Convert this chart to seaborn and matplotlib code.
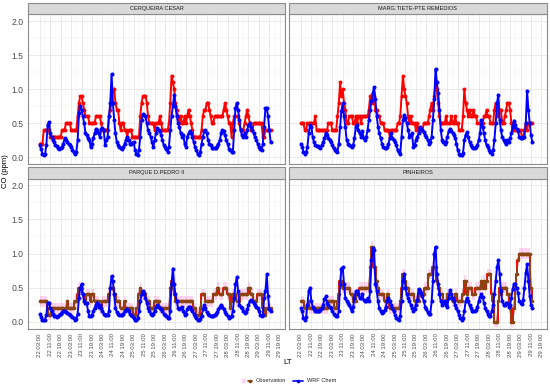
import numpy as np
import pandas as pd
import matplotlib
matplotlib.use("Agg")
import matplotlib.pyplot as plt
import seaborn as sns
from matplotlib.patches import Rectangle, Patch
from matplotlib.lines import Line2D
from matplotlib.legend_handler import HandlerTuple

# ---------------- data ----------------
stations = ["CERQUEIRA CESAR", "MARG.TIETE-PTE REMEDIOS", "PARQUE D.PEDRO II", "PINHEIROS"]
start_time = "2018-05-22 03:00"
n_hours = 178
tick_step_hours = 8
n_ticks = 24

cc_obs = [0.2,0.2,0.2,0.4,0.4,0.4,0.4,0.4,0.3,0.3,0.3,0.3,0.3,0.3,0.3,0.3,0.3,0.4,0.4,0.4,0.5,0.5,0.5,0.5,
          0.4,0.4,0.4,0.4,0.4,0.6,0.8,0.9,0.9,0.8,0.7,0.6,0.6,0.6,0.5,0.5,0.5,0.5,0.5,0.6,0.6,0.6,0.6,0.5,
          0.4,0.4,0.4,0.4,0.4,0.6,0.7,0.8,1.0,1.0,0.8,0.7,0.7,0.5,0.4,0.5,0.5,0.4,0.4,0.3,0.4,0.4,0.4,0.3,
          0.3,0.3,0.3,0.3,0.3,0.6,0.8,0.9,0.9,0.9,0.8,0.6,0.5,0.5,0.5,0.5,0.4,0.5,0.5,0.5,0.6,0.5,0.4,0.4,
          0.4,0.4,0.4,0.5,0.8,1.2,1.1,1.0,0.8,0.7,0.6,0.5,0.6,0.5,0.5,0.6,0.5,0.6,0.7,0.6,0.5,0.4,0.3,0.3,
          0.3,0.3,0.3,0.3,0.4,0.6,0.7,0.7,0.8,0.8,0.7,0.6,0.5,0.5,0.6,0.6,0.6,0.6,0.6,0.6,0.6,0.7,0.8,0.7,
          0.6,0.5,0.5,0.3,0.5,0.6,0.6,0.6,0.6,0.5,0.4,0.4,0.4,0.5,0.6,0.7,0.6,0.5,0.4,0.4,0.5,0.5,0.5,0.5,
          0.5,0.5,0.5,0.3,0.3,0.4,0.4,0.4,0.4,0.4]
cc_wrf = [0.18,0.12,0.05,0.03,0.05,0.18,0.48,0.52,0.35,0.30,0.25,0.22,0.18,0.16,0.14,0.12,0.13,0.15,0.20,0.28,0.25,0.22,0.20,0.18,
          0.15,0.10,0.08,0.05,0.08,0.25,0.65,0.75,0.70,0.60,0.50,0.35,0.32,0.28,0.25,0.15,0.20,0.28,0.35,0.42,0.40,0.35,0.30,0.42,
          0.43,0.40,0.18,0.25,0.30,0.60,0.80,1.22,0.80,0.55,0.35,0.22,0.18,0.15,0.13,0.12,0.15,0.20,0.25,0.30,0.25,0.20,0.20,0.21,
          0.22,0.10,0.05,0.03,0.10,0.30,0.55,0.63,0.62,0.60,0.50,0.40,0.35,0.30,0.22,0.15,0.25,0.35,0.43,0.40,0.38,0.32,0.25,0.18,
          0.15,0.12,0.08,0.15,0.40,0.60,0.75,0.92,0.75,0.60,0.50,0.45,0.35,0.30,0.33,0.20,0.15,0.30,0.35,0.38,0.35,0.30,0.22,0.15,
          0.10,0.05,0.03,0.07,0.20,0.30,0.38,0.40,0.35,0.25,0.20,0.18,0.14,0.13,0.13,0.14,0.17,0.20,0.25,0.35,0.40,0.38,0.32,0.25,
          0.20,0.12,0.10,0.08,0.07,0.40,0.72,0.80,0.70,0.55,0.40,0.32,0.30,0.35,0.30,0.40,0.47,0.50,0.45,0.40,0.35,0.30,0.25,0.20,
          0.15,0.12,0.10,0.20,0.45,0.72,0.73,0.60,0.40,0.22]

mt_obs = [0.5,0.5,0.5,0.4,0.4,0.5,0.5,0.5,0.5,0.5,0.5,0.6,0.4,0.4,0.4,0.4,0.4,0.4,0.4,0.4,0.4,0.5,0.5,0.5,
          0.4,0.4,0.4,0.4,0.6,0.8,1.1,0.9,1.0,0.8,0.7,0.5,0.5,0.6,0.6,0.6,0.5,0.5,0.6,0.5,0.6,0.6,0.5,0.6,
          0.6,0.6,0.6,0.6,0.7,0.9,0.9,0.8,0.9,0.7,0.7,0.6,0.6,0.5,0.5,0.5,0.4,0.4,0.4,0.4,0.3,0.4,0.4,0.4,
          0.4,0.4,0.5,0.5,0.6,0.9,1.2,1.0,0.9,0.8,0.6,0.5,0.6,0.5,0.5,0.5,0.4,0.5,0.4,0.4,0.4,0.4,0.5,0.5,
          0.5,0.5,0.6,0.7,0.8,0.7,0.9,1.1,1.0,0.8,0.6,0.5,0.5,0.5,0.5,0.6,0.5,0.5,0.5,0.6,0.5,0.5,0.6,0.5,
          0.5,0.4,0.4,0.4,0.6,1.0,0.8,0.7,0.6,0.7,0.6,0.6,0.7,0.6,0.6,0.5,0.5,0.5,0.5,0.5,0.6,0.6,0.7,0.6,
          0.6,0.5,0.5,0.5,0.7,0.8,0.7,0.6,0.7,0.7,0.5,0.5,0.6,0.7,0.8,0.8,0.7,0.5,0.4,0.5,0.4,0.4,0.4,0.4,
          0.4,0.3,0.3,0.4,0.5,0.4,0.5,0.5,0.5,0.5]
mt_wrf = [0.20,0.15,0.08,0.05,0.07,0.15,0.35,0.48,0.45,0.30,0.22,0.18,0.17,0.16,0.15,0.13,0.18,0.22,0.28,0.35,0.32,0.28,0.25,0.22,
          0.18,0.13,0.10,0.09,0.08,0.20,0.45,0.68,0.80,0.60,0.45,0.25,0.20,0.18,0.16,0.15,0.18,0.28,0.45,0.48,0.40,0.35,0.30,0.38,
          0.28,0.25,0.30,0.40,0.55,0.70,0.82,0.95,1.03,0.85,0.60,0.45,0.35,0.28,0.20,0.15,0.13,0.13,0.15,0.20,0.28,0.35,0.28,0.25,
          0.22,0.18,0.10,0.07,0.05,0.30,0.55,0.62,0.58,0.50,0.40,0.30,0.33,0.35,0.15,0.18,0.25,0.30,0.35,0.45,0.42,0.40,0.37,0.33,
          0.30,0.25,0.20,0.22,0.30,0.55,0.85,1.30,1.10,0.95,0.70,0.40,0.25,0.22,0.20,0.23,0.30,0.38,0.42,0.38,0.36,0.33,0.28,0.20,
          0.10,0.05,0.03,0.03,0.06,0.25,0.33,0.37,0.30,0.22,0.18,0.15,0.14,0.13,0.15,0.18,0.25,0.35,0.55,0.45,0.35,0.25,0.18,0.15,
          0.10,0.08,0.05,0.10,0.25,0.50,0.80,0.92,0.55,0.40,0.30,0.25,0.22,0.20,0.25,0.22,0.28,0.35,0.45,0.54,0.48,0.42,0.38,0.30,
          0.28,0.28,0.29,0.30,0.50,0.98,0.70,0.50,0.32,0.22]

pd_obs = [0.3,0.3,0.3,0.3,0.3,0.3,0.2,0.1,0.1,0.2,0.2,0.2,0.2,0.2,0.2,0.2,0.2,0.2,0.2,0.2,0.2,0.3,0.2,0.2,
          0.2,0.2,0.2,0.3,0.3,0.4,0.5,0.5,0.5,0.4,0.3,0.3,0.4,0.4,0.4,0.3,0.4,0.4,0.3,0.3,0.3,0.3,0.2,0.2,
          0.3,0.3,0.3,0.3,0.3,0.4,0.5,0.5,0.5,0.4,0.4,0.3,0.3,0.3,0.2,0.2,0.2,0.3,0.2,0.2,0.2,0.2,0.2,0.2,
          0.1,0.1,0.2,0.2,0.4,0.5,0.4,0.4,0.4,0.4,0.3,0.3,0.3,0.2,0.2,0.2,0.3,0.3,0.3,0.3,0.2,0.2,0.2,0.2,
          0.2,0.2,0.2,0.2,0.5,0.6,0.5,0.4,0.3,0.3,0.3,0.3,0.3,0.3,0.3,0.3,0.3,0.3,0.3,0.3,0.3,0.3,0.2,0.2,
          0.1,0.1,0.1,0.2,0.4,0.4,0.4,0.3,0.3,0.3,0.3,0.3,0.3,0.4,0.4,0.4,0.5,0.5,0.4,0.4,0.4,0.5,0.5,0.5,
          0.4,0.4,0.2,0.3,0.4,0.4,0.4,0.3,0.3,0.3,0.4,0.4,0.4,0.4,0.4,0.4,0.5,0.5,0.4,0.4,0.3,0.3,0.3,0.4,
          0.4,0.4,0.4,0.2,0.2,0.1,0.2,0.2,0.2,0.2]
pd_wrf = [0.11,0.07,0.03,0.02,0.03,0.10,0.28,0.28,0.20,0.15,0.12,0.09,0.08,0.07,0.08,0.10,0.12,0.14,0.15,0.15,0.14,0.13,0.12,0.10,
          0.08,0.07,0.05,0.03,0.04,0.12,0.35,0.50,0.55,0.40,0.30,0.28,0.27,0.15,0.08,0.08,0.10,0.15,0.20,0.25,0.28,0.22,0.25,0.20,
          0.15,0.12,0.10,0.10,0.10,0.15,0.50,0.67,0.60,0.40,0.20,0.14,0.12,0.10,0.10,0.10,0.12,0.15,0.17,0.18,0.15,0.12,0.10,0.08,
          0.05,0.03,0.02,0.05,0.15,0.30,0.40,0.45,0.42,0.35,0.28,0.20,0.15,0.12,0.10,0.12,0.15,0.22,0.25,0.22,0.20,0.18,0.15,0.12,
          0.10,0.08,0.06,0.05,0.15,0.55,0.78,0.55,0.40,0.30,0.20,0.18,0.20,0.22,0.15,0.10,0.12,0.18,0.22,0.21,0.18,0.15,0.12,0.09,
          0.05,0.03,0.03,0.04,0.08,0.18,0.25,0.20,0.14,0.11,0.10,0.08,0.08,0.09,0.10,0.12,0.14,0.18,0.22,0.25,0.22,0.18,0.14,0.11,
          0.08,0.06,0.07,0.08,0.15,0.35,0.55,0.65,0.45,0.25,0.22,0.20,0.16,0.13,0.14,0.18,0.25,0.30,0.32,0.30,0.28,0.25,0.22,0.20,
          0.15,0.10,0.08,0.10,0.35,0.45,0.70,0.38,0.18,0.15]

ph_obs = [0.3,0.3,0.3,0.2,0.2,0.2,0.3,0.2,0.2,0.2,0.2,0.2,0.2,0.2,0.2,0.2,0.2,0.2,0.2,0.2,0.2,0.3,0.3,0.3,
          0.3,0.3,0.2,0.2,0.3,0.4,0.6,0.6,0.5,0.5,0.5,0.5,0.5,0.5,0.4,0.4,0.3,0.3,0.3,0.4,0.4,0.5,0.5,0.5,
          0.5,0.5,0.5,0.5,0.5,0.8,1.1,1.1,0.8,0.8,0.6,0.5,0.4,0.4,0.4,0.4,0.3,0.3,0.4,0.4,0.2,0.2,0.2,0.2,
          0.2,0.2,0.2,0.2,0.3,0.5,0.7,0.7,0.6,0.5,0.5,0.4,0.4,0.4,0.4,0.3,0.3,0.3,0.3,0.4,0.4,0.4,0.4,0.5,
          0.5,0.5,0.7,0.7,0.7,0.8,0.8,0.8,0.6,0.5,0.5,0.4,0.4,0.3,0.3,0.3,0.4,0.4,0.4,0.4,0.3,0.3,0.4,0.4,
          0.3,0.3,0.3,0.3,0.4,0.6,0.6,0.4,0.5,0.5,0.5,0.4,0.4,0.4,0.5,0.5,0.5,0.5,0.6,0.5,0.6,0.5,0.6,0.7,
          0.7,0.7,0.4,0.3,0.0,0.0,0.0,0.3,0.5,0.4,0.5,0.5,0.5,0.5,0.4,0.4,0.2,0.0,0.0,0.2,0.5,0.7,0.9,1.0,
          1.0,1.0,1.0,1.0,1.0,1.0,1.0,1.0,0.5,0.3]
ph_wrf = [0.20,0.15,0.05,0.03,0.07,0.25,0.45,0.50,0.30,0.22,0.18,0.16,0.15,0.15,0.15,0.17,0.20,0.25,0.33,0.37,0.28,0.24,0.22,0.20,
          0.15,0.12,0.10,0.08,0.08,0.15,0.55,0.78,0.80,0.55,0.35,0.30,0.28,0.25,0.20,0.15,0.22,0.35,0.45,0.45,0.40,0.35,0.35,0.40,
          0.32,0.30,0.30,0.35,0.30,0.45,0.90,1.08,1.05,0.55,0.45,0.30,0.20,0.15,0.13,0.14,0.17,0.22,0.30,0.35,0.30,0.25,0.20,0.15,
          0.10,0.06,0.04,0.03,0.08,0.30,0.60,0.70,0.50,0.40,0.35,0.30,0.25,0.20,0.16,0.18,0.25,0.32,0.48,0.45,0.42,0.37,0.30,0.22,
          0.18,0.14,0.11,0.12,0.30,0.60,1.00,1.10,0.70,0.55,0.40,0.30,0.25,0.28,0.30,0.25,0.22,0.35,0.46,0.40,0.35,0.30,0.25,0.20,
          0.15,0.10,0.05,0.03,0.06,0.15,0.30,0.35,0.30,0.24,0.20,0.15,0.15,0.15,0.17,0.22,0.30,0.36,0.40,0.36,0.28,0.20,0.15,0.12,
          0.08,0.09,0.15,0.25,0.40,0.60,0.80,0.90,0.70,0.45,0.30,0.25,0.25,0.27,0.28,0.22,0.25,0.35,0.48,0.56,0.55,0.50,0.42,0.30,
          0.28,0.26,0.32,0.50,0.72,0.84,0.60,0.38,0.25,0.20]

obs_series = [cc_obs, mt_obs, pd_obs, ph_obs]
wrf_series = [cc_wrf, mt_wrf, pd_wrf, ph_wrf]
y_ticks = [0.0, 0.5, 1.0, 1.5, 2.0]
y_tick_labels = ["0.0", "0.5", "1.0", "1.5", "2.0"]

# ---------------- styling ----------------
sns.set_theme(style="white")
plt.rcParams["font.family"] = ["Liberation Sans", "DejaVu Sans"]

C_OBS = "#FF0000"
C_OBS2 = "#8B4513"
C_WRF = "#0000FF"
C_PINK = "#FF66CC"
GRID_MAJ = "#E6E6E6"
GRID_MIN = "#F2F2F2"
BORDER = "#8C8C8C"
TXT = "#4D4D4D"

W, H = 550, 386
fig = plt.figure(figsize=(W / 100, H / 100), dpi=100)
fig.patch.set_facecolor("white")

# panel rectangles in pixels: (left, top, right, bottom)
panels_px = [(28.3, 14.5, 285.0, 164.0), (289.3, 14.5, 546.7, 164.0),
             (28.3, 178.5, 285.0, 328.5), (289.3, 178.5, 546.7, 328.5)]

times = pd.date_range(start_time, periods=n_hours, freq="h")
major = pd.date_range(start_time, periods=n_ticks, freq=f"{tick_step_hours}h")
minor = major + pd.Timedelta(hours=tick_step_hours / 2)
pad = pd.Timedelta(hours=0.05 * (n_hours - 1))

for k, (name, obs, wrf) in enumerate(zip(stations, obs_series, wrf_series)):
    assert len(obs) == n_hours and len(wrf) == n_hours, (name, len(obs), len(wrf))
    l, t, r, b = panels_px[k]
    ax = fig.add_axes([l / W, 1 - b / H, (r - l) / W, (b - t) / H])
    ax.set_facecolor("white")
    obs = np.array(obs)
    wrf = np.array(wrf)
    bottom_row = k >= 2
    if bottom_row:
        ax.fill_between(times, obs - 0.08, obs + 0.08, step="mid",
                        color=C_PINK, alpha=0.28, linewidth=0, zorder=1)
        sns.lineplot(x=times, y=obs, ax=ax, color=C_OBS, linewidth=1.4,
                     drawstyle="steps-mid", legend=False, zorder=2)
        sns.lineplot(x=times, y=obs, ax=ax, color=C_OBS2, linewidth=1.0,
                     marker="o", markersize=2.6, markeredgewidth=0,
                     legend=False, zorder=3)
    else:
        sns.lineplot(x=times, y=obs, ax=ax, color=C_OBS, linewidth=1.4,
                     marker="o", markersize=2.8, markeredgewidth=0,
                     legend=False, zorder=3)
    sns.lineplot(x=times, y=wrf, ax=ax, color=C_WRF, linewidth=1.4,
                 marker="o", markersize=2.9, markeredgewidth=0,
                 legend=False, zorder=4)

    ax.set_xlim(times[0] - pad, times[-1] + pad)
    ax.set_ylim(-0.1, 2.1)
    ax.set_xticks(major)
    ax.set_xticks(minor, minor=True)
    ax.set_yticks(y_ticks)
    ax.set_yticks([0.25, 0.75, 1.25, 1.75], minor=True)
    ax.grid(which="major", color=GRID_MAJ, linewidth=0.6)
    ax.grid(which="minor", color=GRID_MIN, linewidth=0.35)
    ax.set_axisbelow(True)
    ax.set_xlabel("")
    ax.set_ylabel("")
    for s in ax.spines.values():
        s.set_color(BORDER)
        s.set_linewidth(0.8)

    ax.tick_params(which="minor", length=0)
    ax.tick_params(which="major", length=2, width=0.5, color="#333333", pad=1.5)
    if bottom_row:
        ax.set_xticklabels([d.strftime("%d %H:%M") for d in major],
                           rotation=90, fontsize=4.3, color=TXT)
    else:
        ax.tick_params(axis="x", bottom=False, labelbottom=False)
    if k % 2 == 0:
        ax.set_yticklabels(y_tick_labels, fontsize=6.2, color=TXT)
    else:
        ax.tick_params(axis="y", left=False, labelleft=False)

    # facet strip
    sh = 11.5 / (b - t)
    ax.add_patch(Rectangle((0, 1), 1, sh, transform=ax.transAxes, clip_on=False,
                           facecolor="#D9D9D9", edgecolor=BORDER, linewidth=0.8, zorder=5))
    ax.text(0.5, 1 + sh / 2, name, transform=ax.transAxes, ha="center", va="center",
            fontsize=4.1, color="#1A1A1A", zorder=6)

fig.text(5.5 / W, 1 - 171.5 / H, "CO (ppm)", rotation=90, ha="center", va="center",
         fontsize=5.6, color="black")
fig.text(288 / W, 1 - 362 / H, "LT", ha="center", va="center", fontsize=5.8, color="black")

h_obs = (Patch(facecolor=C_PINK, alpha=0.3, edgecolor="none"),
         Line2D([], [], color=C_OBS2, lw=1.2, marker="o", ms=2.6, mew=0))
h_wrf = Line2D([], [], color=C_WRF, lw=1.2, marker="o", ms=2.6, mew=0)
fig.legend([h_obs, h_wrf], ["Observation", "WRF Chem"], loc="center",
           bbox_to_anchor=(289 / W, 1 - 381 / H), ncol=2, frameon=False,
           fontsize=4.1, handlelength=1.8, handletextpad=0.6, columnspacing=1.2,
           handler_map={tuple: HandlerTuple(ndivide=None)})

fig.savefig("out.png", dpi=100, facecolor="white")
